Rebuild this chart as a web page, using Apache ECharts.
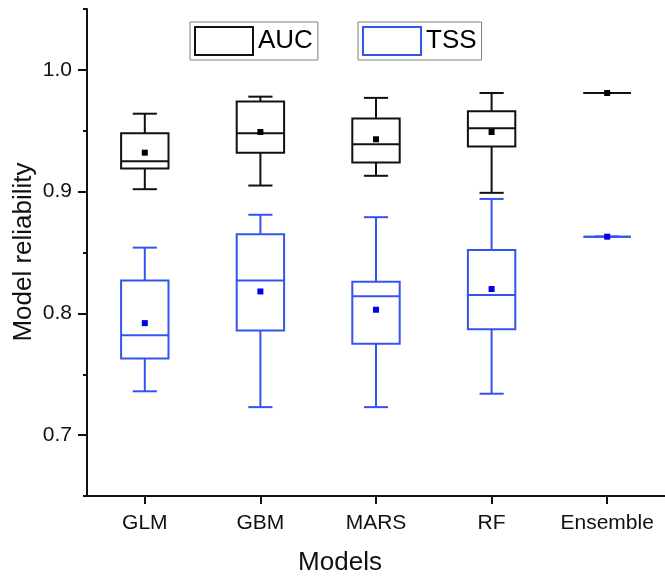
<!DOCTYPE html>
<html>
<head>
<meta charset="utf-8">
<script src="https://cdn.jsdelivr.net/npm/echarts@6/dist/echarts.min.js"></script>
<style>
html,body{margin:0;padding:0;background:#fff;}
#chart{width:665px;height:579px;}
</style>
</head>
<body>
<div id="chart"></div>
<script>
const categories = ['GLM', 'GBM', 'MARS', 'RF', 'Ensemble'];

const aucMin    = [0.902, 0.905, 0.913, 0.899, 0.981];
const aucQ1     = [0.919, 0.932, 0.924, 0.937, 0.981];
const aucMedian = [0.925, 0.948, 0.939, 0.952, 0.981];
const aucQ3     = [0.948, 0.974, 0.960, 0.966, 0.981];
const aucMax    = [0.964, 0.978, 0.977, 0.981, 0.981];
const aucMean   = [0.932, 0.949, 0.943, 0.949, 0.981];

const tssMin    = [0.736, 0.723, 0.723, 0.734, 0.863];
const tssQ1     = [0.763, 0.786, 0.775, 0.787, 0.863];
const tssMedian = [0.782, 0.827, 0.814, 0.815, 0.863];
const tssQ3     = [0.827, 0.865, 0.826, 0.852, 0.863];
const tssMax    = [0.854, 0.881, 0.879, 0.894, 0.863];
const tssMean   = [0.792, 0.818, 0.803, 0.820, 0.863];

const yMajorTicks = [0.7, 0.8, 0.9, 1.0];
const yMinorTicks = [0.65, 0.75, 0.85, 0.95, 1.05];

const FONT = "'Liberation Sans', Arial, Helvetica, sans-serif";

function rows(mn, q1, md, q3, mx, mean) {
  return categories.map((c, i) => [i, mn[i], q1[i], md[i], q3[i], mx[i], mean[i]]);
}

function makeRender(lineColor, meanColor) {
  return function (params, api) {
    const x = api.value(0);
    const pMin = api.coord([x, api.value(1)]);
    const pQ1 = api.coord([x, api.value(2)]);
    const pMed = api.coord([x, api.value(3)]);
    const pQ3 = api.coord([x, api.value(4)]);
    const pMax = api.coord([x, api.value(5)]);
    const pMean = api.coord([x, api.value(6)]);
    const band = api.size([1, 0])[0];
    const bw = band * 0.41;
    const cw = bw * 0.51;
    const cx = pMed[0];
    const ls = { stroke: lineColor, lineWidth: 2, fill: null };
    const ms = 6;
    return {
      type: 'group',
      children: [
        { type: 'line', shape: { x1: cx, y1: pQ3[1], x2: cx, y2: pMax[1] }, style: ls },
        { type: 'line', shape: { x1: cx, y1: pQ1[1], x2: cx, y2: pMin[1] }, style: ls },
        { type: 'line', shape: { x1: cx - cw / 2, y1: pMax[1], x2: cx + cw / 2, y2: pMax[1] }, style: ls },
        { type: 'line', shape: { x1: cx - cw / 2, y1: pMin[1], x2: cx + cw / 2, y2: pMin[1] }, style: ls },
        { type: 'rect', shape: { x: cx - bw / 2, y: pQ3[1], width: bw, height: pQ1[1] - pQ3[1] }, style: { stroke: lineColor, lineWidth: 2, fill: 'none' } },
        { type: 'line', shape: { x1: cx - bw / 2, y1: pMed[1], x2: cx + bw / 2, y2: pMed[1] }, style: ls },
        { type: 'rect', shape: { x: pMean[0] - ms / 2, y: pMean[1] - ms / 2, width: ms, height: ms }, style: { fill: meanColor } }
      ]
    };
  };
}

const chart = echarts.init(document.getElementById('chart'), null, { renderer: 'canvas' });

const legendBase = {
  orient: 'horizontal',
  top: 22,
  itemWidth: 58,
  itemHeight: 28,
  padding: [4, 5, 4, 4],
  borderColor: '#808080',
  borderWidth: 1,
  selectedMode: false,
  textStyle: { fontSize: 26, color: '#000', fontFamily: FONT }
};

chart.setOption({
  animation: false,
  backgroundColor: '#fff',
  textStyle: { fontFamily: FONT },
  grid: { left: 87, right: 0, top: 9, bottom: 83 },
  legend: [
    Object.assign({}, legendBase, {
      left: 190,
      data: [{ name: 'AUC', icon: 'rect', itemStyle: { color: '#fff', borderColor: '#111', borderWidth: 2 } }]
    }),
    Object.assign({}, legendBase, {
      left: 358,
      data: [{ name: 'TSS', icon: 'rect', itemStyle: { color: '#fff', borderColor: '#3355ee', borderWidth: 2 } }]
    })
  ],
  xAxis: {
    type: 'category',
    data: categories,
    boundaryGap: true,
    axisLine: { show: true, lineStyle: { color: '#111', width: 2 } },
    axisTick: { show: true, alignWithLabel: true, interval: 0, length: 8, lineStyle: { color: '#111', width: 2 } },
    axisLabel: { interval: 0, fontSize: 21, color: '#111', margin: 17, fontFamily: FONT },
    splitLine: { show: false }
  },
  yAxis: [
    {
      type: 'value',
      min: 0.65,
      max: 1.05,
      interval: 0.05,
      position: 'left',
      axisLine: { show: true, lineStyle: { color: '#111', width: 2 } },
      axisTick: { show: true, length: 9, customValues: yMajorTicks, lineStyle: { color: '#111', width: 2 } },
      axisLabel: { fontSize: 21, color: '#111', margin: 15, fontFamily: FONT, customValues: yMajorTicks, formatter: v => Number(v).toFixed(1) },
      splitLine: { show: false }
    },
    {
      type: 'value',
      min: 0.65,
      max: 1.05,
      interval: 0.05,
      position: 'left',
      axisLine: { show: false },
      axisTick: { show: true, length: 4, customValues: yMinorTicks, lineStyle: { color: '#111', width: 2 } },
      axisLabel: { show: false },
      splitLine: { show: false }
    }
  ],
  graphic: [
    {
      type: 'text',
      x: 24,
      y: 252,
      rotation: Math.PI / 2,
      style: { text: 'Model reliability', fontSize: 26, fontFamily: FONT, fill: '#111', textAlign: 'center', textVerticalAlign: 'middle' }
    },
    {
      type: 'text',
      x: 340,
      y: 563,
      style: { text: 'Models', fontSize: 26, fontFamily: FONT, fill: '#111', textAlign: 'center', textVerticalAlign: 'middle' }
    }
  ],
  series: [
    {
      name: 'AUC',
      type: 'custom',
      yAxisIndex: 0,
      itemStyle: { color: '#111' },
      renderItem: makeRender('#111', '#000'),
      encode: { x: 0, y: [1, 2, 3, 4, 5, 6] },
      data: rows(aucMin, aucQ1, aucMedian, aucQ3, aucMax, aucMean)
    },
    {
      name: 'TSS',
      type: 'custom',
      yAxisIndex: 0,
      itemStyle: { color: '#3355ee' },
      renderItem: makeRender('#3355ee', '#0000ee'),
      encode: { x: 0, y: [1, 2, 3, 4, 5, 6] },
      data: rows(tssMin, tssQ1, tssMedian, tssQ3, tssMax, tssMean)
    }
  ]
});
</script>
</body>
</html>
